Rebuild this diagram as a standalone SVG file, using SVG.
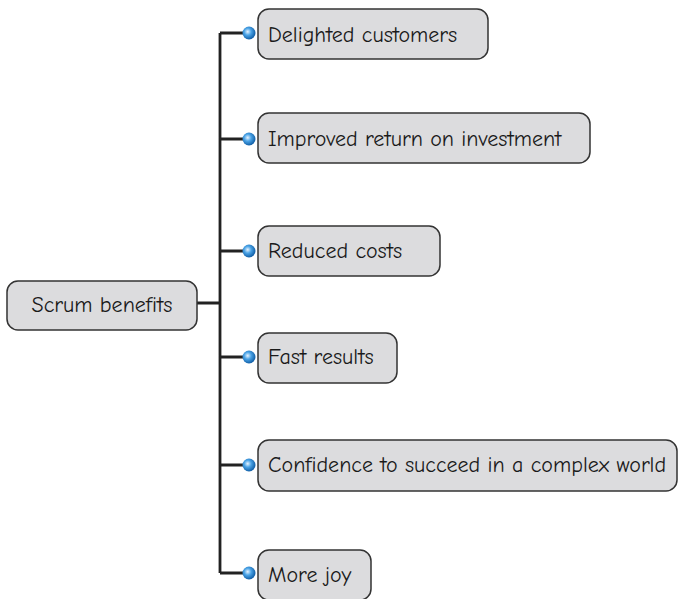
<svg xmlns="http://www.w3.org/2000/svg" width="679" height="599" viewBox="0 0 679 599">
<defs>
<radialGradient id="dot" cx="0.4" cy="0.4" r="0.6">
<stop offset="0" stop-color="#e8f4ff"/>
<stop offset="0.45" stop-color="#4aa3e6"/>
<stop offset="1" stop-color="#1260a8"/>
</radialGradient>
<style>
.box{fill:#dcdcde;stroke:#333;stroke-width:1.5}
.t{font-family:"Comic Neue","Liberation Sans",sans-serif;font-size:22px;fill:#1a1a1a}
.c{fill:none;stroke:#222;stroke-width:2.8}
.d{fill:url(#dot)}
</style>
</defs>
<rect width="679" height="599" fill="#fff"/>
<g id="connectors">
<path class="c" d="M197,303 H220 M220,33 V573 M220,33 H245 M220,139 H245 M220,251 H245 M220,357 H245 M220,465 H245 M220,573 H245"/>
</g>
<g id="root"><rect class="box" x="7" y="281" width="190" height="49" rx="11"/><text class="t" x="102" y="312" text-anchor="middle">Scrum benefits</text></g>
<g id="n1"><rect class="box" x="258" y="9" width="230" height="50" rx="11"/><text class="t" x="268" y="42">Delighted customers</text><circle class="d" cx="249" cy="33" r="6.5"/></g>
<g id="n2"><rect class="box" x="258" y="113" width="332" height="50" rx="11"/><text class="t" x="268" y="146">Improved return on investment</text><circle class="d" cx="249" cy="139" r="6.5"/></g>
<g id="n3"><rect class="box" x="258" y="226" width="182" height="50" rx="11"/><text class="t" x="268" y="258">Reduced costs</text><circle class="d" cx="249" cy="251" r="6.5"/></g>
<g id="n4"><rect class="box" x="258" y="333" width="139" height="50" rx="11"/><text class="t" x="268" y="364">Fast results</text><circle class="d" cx="249" cy="357" r="6.5"/></g>
<g id="n5"><rect class="box" x="258" y="440" width="419" height="51" rx="11"/><text class="t" x="268" y="472">Confidence to succeed in a complex world</text><circle class="d" cx="249" cy="465" r="6.5"/></g>
<g id="n6"><rect class="box" x="258" y="550" width="113" height="50" rx="11"/><text class="t" x="268" y="582">More joy</text><circle class="d" cx="249" cy="573" r="6.5"/></g>
</svg>
